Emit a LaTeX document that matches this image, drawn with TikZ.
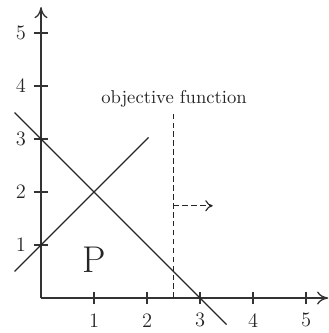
\documentclass[tikz,border=0pt]{standalone}
\usetikzlibrary{arrows.meta}
\begin{document}
\begin{tikzpicture}[
  ax/.style={line width=0.7pt, -{To[length=6pt,width=7pt]}, black!80},
  ln/.style={line width=0.6pt, black!85},
  dsh/.style={line width=0.6pt, black!85, dash pattern=on 3pt off 1.8pt},
  tk/.style={line width=0.6pt, black!80},
  lbl/.style={font=\fontsize{11}{12}\selectfont, black!85, inner sep=0pt}
]
\useasboundingbox (-0.774,-0.66) rectangle (5.415,5.623);
% axes
\coordinate (O) at (0,0);
\coordinate (xe) at (5.42,0);
\coordinate (ye) at (0,5.49);
\draw[ax] (O) -- (xe);
\draw[ax] (O) -- (ye);
% ticks
\foreach \i in {1,...,5} {
  \draw[tk] (\i,-0.12) -- (\i,0.12);
  \draw[tk] (-0.14,\i) -- (0.14,\i);
  \node[lbl] (xl\i) at (\i,-0.42) {\i};
  \node[lbl] (yl\i) at (-0.38,\i) {\i};
}
% constraint lines
\coordinate (a1) at (-0.5,3.5);
\coordinate (a2) at (3.5,-0.5);
\draw[ln] (a1) -- (a2);
\coordinate (b1) at (-0.5,0.5);
\coordinate (b2) at (2.03,3.03);
\draw[ln] (b1) -- (b2);
% objective function
\coordinate (d1) at (2.5,0);
\coordinate (d2) at (2.5,3.5);
\draw[dsh] (d1) -- (d2);
\node[font=\fontsize{10}{12}\selectfont, black!85] (obj) at (2.51,3.75) {objective function};
\coordinate (s) at (2.5,1.74);
\coordinate (t) at (3.24,1.74);
\draw[dsh, -{To[length=4pt,width=6pt]}] (s) -- (t);
% region label
\node[font=\fontsize{20}{22}\selectfont, black!85] (P) at (1.0,0.72) {P};
\end{tikzpicture}
\end{document}
